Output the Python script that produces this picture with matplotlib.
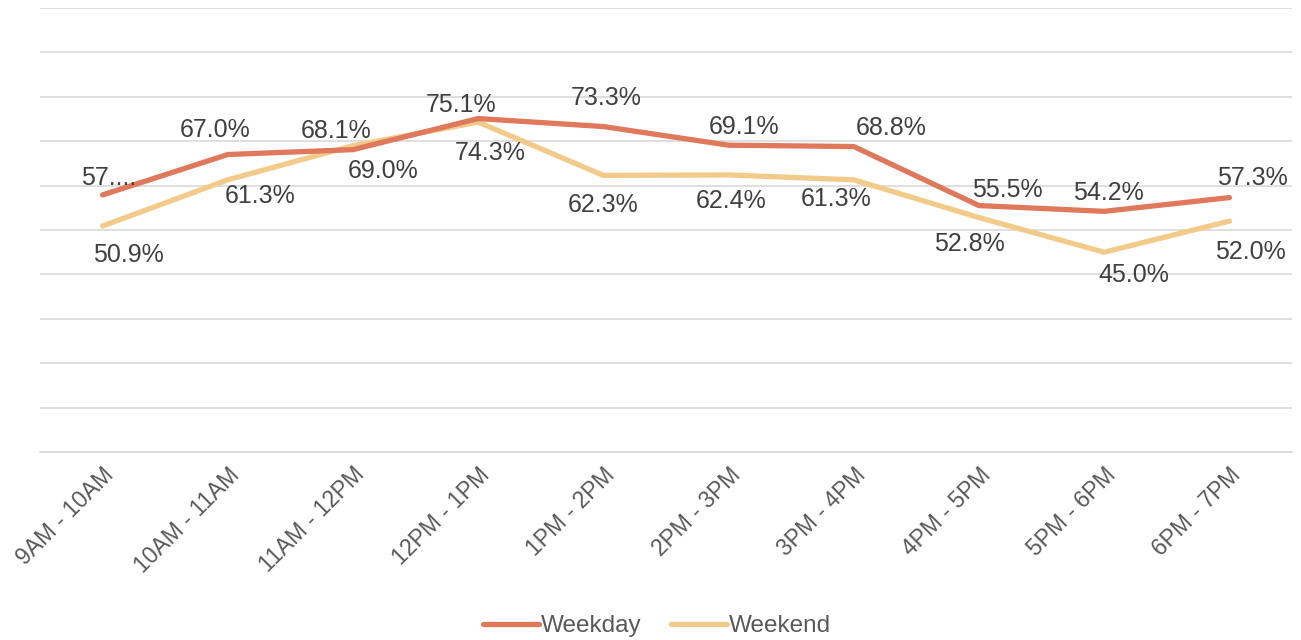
import matplotlib.pyplot as plt
import numpy as np

# Data
time_slots = ['9AM - 10AM', '10AM - 11AM', '11AM - 12PM', '12PM - 1PM', '1PM - 2PM',
              '2PM - 3PM', '3PM - 4PM', '4PM - 5PM', '5PM - 6PM', '6PM - 7PM']
weekday = [57.9, 67.0, 68.1, 75.1, 73.3, 69.1, 68.8, 55.5, 54.2, 57.3]
weekend = [50.9, 61.3, 69.0, 74.3, 62.3, 62.4, 61.3, 52.8, 45.0, 52.0]

# label placement (pixel offsets from the point), mimicking the original layout
weekday_offsets = [(6, 17), (-13, 25), (-17, 19), (-17, 14), (3, 29),
                   (15, 18), (37, 19), (28, 16), (4, 18), (23, 20)]
weekend_offsets = [(26, -29), (32, -16), (30, -25), (12, -31), (0, -30),
                   (3, -26), (-18, -19), (-10, -26), (30, -23), (21, -31)]

plt.rcParams['font.family'] = ['Liberation Sans', 'DejaVu Sans']

fig = plt.figure(figsize=(13.01, 6.4), dpi=100)
ax = fig.add_axes([40 / 1301, (640 - 452) / 640, (1292 - 40) / 1301, 444 / 640])

x = np.arange(len(time_slots))
ax.plot(x, weekday, color='#E0785B', linewidth=3.8, solid_capstyle='round', label='Weekday', zorder=3)
ax.plot(x, weekend, color='#F2CB8A', linewidth=3.8, solid_capstyle='round', label='Weekend', zorder=2)

# Data labels
for i, (val, off) in enumerate(zip(weekday, weekday_offsets)):
    text = f'{val:.1f}%' if i > 0 else '57....'
    ax.annotate(text, (x[i], val), xytext=off, textcoords='offset pixels',
                ha='center', va='center', fontsize=18, color='#404040', zorder=5)
for i, (val, off) in enumerate(zip(weekend, weekend_offsets)):
    ax.annotate(f'{val:.1f}%', (x[i], val), xytext=off, textcoords='offset pixels',
                ha='center', va='center', fontsize=18, color='#404040', zorder=5)

ax.set_xlim(-0.5, len(time_slots) - 0.5)
ax.set_ylim(0, 100)
ax.set_yticks(np.arange(0, 101, 10))
ax.set_yticklabels([])
ax.tick_params(axis='y', length=0)
ax.grid(axis='y', color='#D9D9D9', linewidth=1.2)
ax.set_axisbelow(True)

ax.set_xticks(x)
ax.set_xticklabels(time_slots, rotation=45, ha='right', va='top', rotation_mode='anchor',
                   fontsize=16.5, color='#595959')
ax.tick_params(axis='x', length=0, pad=8)

for side in ['top', 'right', 'left']:
    ax.spines[side].set_visible(False)
ax.spines['bottom'].set_color('#D9D9D9')
ax.spines['bottom'].set_linewidth(1.2)

fig.legend(loc='lower center', bbox_to_anchor=(0.505, -0.03), ncol=2, frameon=False,
           fontsize=17.5, labelcolor='#595959', handlelength=2.3, handletextpad=0.1,
           columnspacing=1.2)

fig.savefig('out.png', dpi=100)
